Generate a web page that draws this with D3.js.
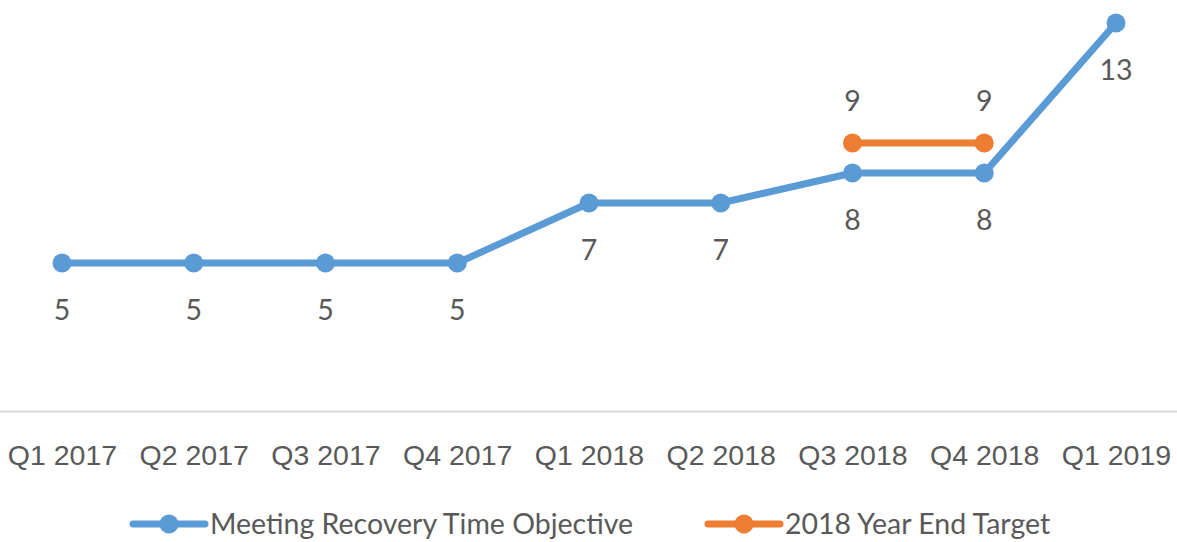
<!DOCTYPE html>
<html>
<head>
<meta charset="utf-8">
<script src="https://cdn.jsdelivr.net/npm/d3@7"></script>
<style>
  body { margin: 0; background: #fff; }
  svg { display: block; font-family: Lato, "Open Sans", sans-serif; }
  .lbl { fill: #595959; font-size: 28.5px; }
</style>
</head>
<body>
<div id="chartId"></div>
<script>
// data
const quarters = ["Q1 2017", "Q2 2017", "Q3 2017", "Q4 2017", "Q1 2018", "Q2 2018", "Q3 2018", "Q4 2018", "Q1 2019"];
const rtoValues = [5, 5, 5, 5, 7, 7, 8, 8, 13];
const targetQuarters = ["Q3 2018", "Q4 2018"];
const targetValues = [9, 9];
const seriesNames = ["Meeting Recovery Time Objective", "2018 Year End Target"];

const W = 1177, H = 542;
const blue = "#5b9bd5", orange = "#ed7d31";

const svg = d3.select("#chartId").append("svg")
    .attr("width", W).attr("height", H);

const x = d3.scalePoint().domain(quarters).range([62, 1116]);
const y = d3.scaleLinear().domain([0, 14]).range([413, -7]);

// baseline axis
svg.append("line")
    .attr("x1", 0).attr("x2", W)
    .attr("y1", 411.5).attr("y2", 411.5)
    .attr("stroke", "#d9d9d9").attr("stroke-width", 2);

const xAxis = d3.axisBottom(x).tickSize(0).tickPadding(0);
const gx = svg.append("g").attr("transform", "translate(0,455)").call(xAxis);
gx.select(".domain").remove();
gx.selectAll("text").attr("class", "lbl").attr("fill", null)
    .attr("font-family", null).attr("font-size", null).attr("dy", "0.35em");

function drawSeries(cats, vals, color, below) {
    const pts = cats.map((c, i) => ({ c: c, v: vals[i] }));
    const line = d3.line().x(d => x(d.c)).y(d => y(d.v));
    svg.append("path").datum(pts)
        .attr("d", line)
        .attr("fill", "none").attr("stroke", color)
        .attr("stroke-width", 7).attr("stroke-linejoin", "round");
    svg.append("g").selectAll("circle").data(pts).enter().append("circle")
        .attr("cx", d => x(d.c)).attr("cy", d => y(d.v))
        .attr("r", 9.5).attr("fill", color);
    svg.append("g").selectAll("text").data(pts).enter().append("text")
        .attr("class", "lbl").attr("text-anchor", "middle")
        .attr("x", d => x(d.c))
        .attr("y", d => y(d.v) + (below ? 47 : -42))
        .attr("dy", "0.35em")
        .text(d => d.v);
}

drawSeries(quarters, rtoValues, blue, true);
drawSeries(targetQuarters, targetValues, orange, false);

// legend
const legendX = [130, 705];
const leg = svg.append("g").selectAll("g").data(seriesNames).enter().append("g")
    .attr("transform", (d, i) => `translate(${legendX[i]},524)`);
leg.append("line").attr("x1", 3).attr("x2", 75)
    .attr("stroke", (d, i) => i ? orange : blue)
    .attr("stroke-width", 7).attr("stroke-linecap", "round");
leg.append("circle").attr("cx", 39).attr("r", 9.5)
    .attr("fill", (d, i) => i ? orange : blue);
leg.append("text").attr("class", "lbl").attr("x", 80).attr("dy", "0.35em")
    .text(d => d);
</script>
</body>
</html>
